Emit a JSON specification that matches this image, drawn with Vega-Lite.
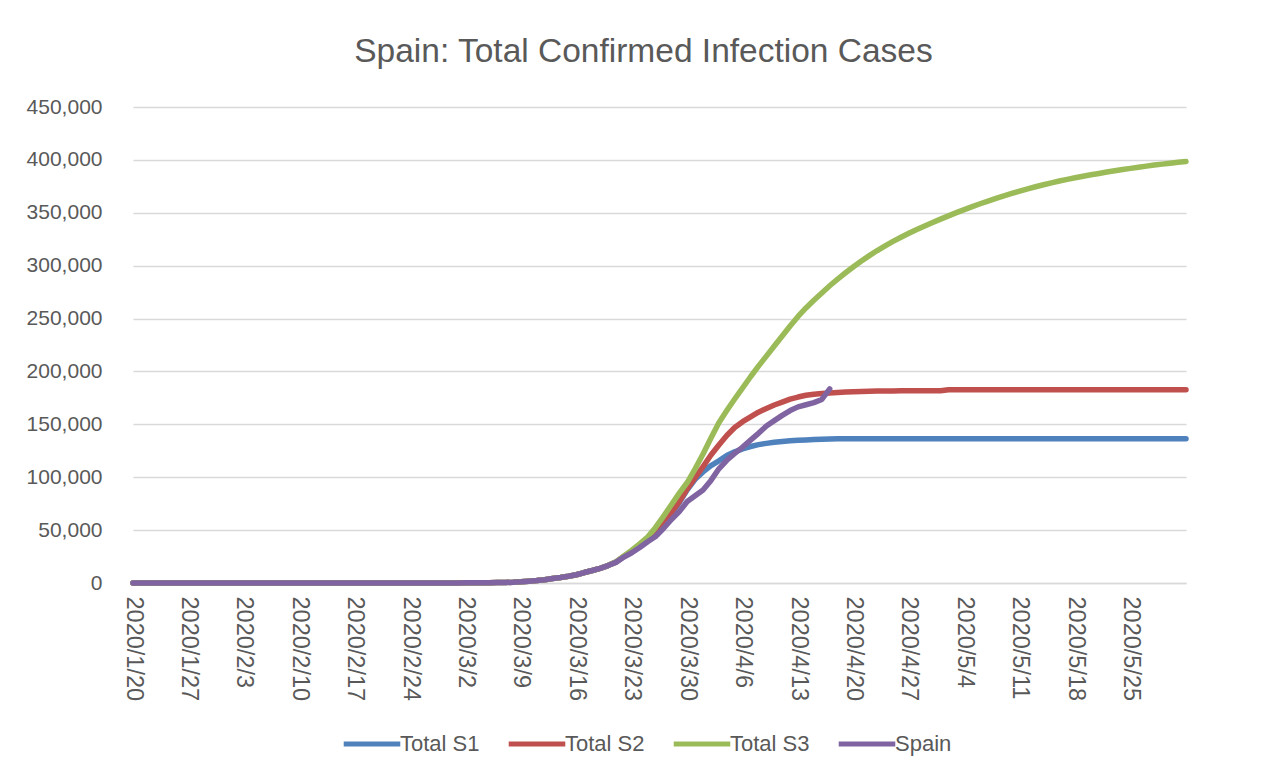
{
  "$schema": "https://vega.github.io/schema/vega-lite/v6.json",
  "autosize": {"type": "none"},
  "width": 1053,
  "height": 476,
  "padding": {"left": 133, "top": 107, "right": 102, "bottom": 195},
  "background": "white",
  "title": {
    "text": "Spain: Total Confirmed Infection Cases",
    "font": "Liberation Sans",
    "fontSize": 33.5,
    "fontWeight": "normal",
    "color": "#595959",
    "anchor": "middle",
    "dx": -16,
    "offset": 27
  },
  "config": {
    "view": {"stroke": null},
    "font": "Liberation Sans"
  },
  "data": {
    "values": [
      {"date":"2020-01-20","Total S1":0,"Total S2":0,"Total S3":0,"Spain":0},
      {"date":"2020-01-27","Total S1":0,"Total S2":0,"Total S3":0,"Spain":0},
      {"date":"2020-02-03","Total S1":0,"Total S2":0,"Total S3":0,"Spain":0},
      {"date":"2020-02-10","Total S1":0,"Total S2":0,"Total S3":0,"Spain":0},
      {"date":"2020-02-17","Total S1":0,"Total S2":0,"Total S3":0,"Spain":0},
      {"date":"2020-02-24","Total S1":0,"Total S2":0,"Total S3":0,"Spain":0},
      {"date":"2020-02-29","Total S1":0,"Total S2":0,"Total S3":0,"Spain":0},
      {"date":"2020-03-01","Total S1":84,"Total S2":84,"Total S3":84,"Spain":84},
      {"date":"2020-03-02","Total S1":120,"Total S2":120,"Total S3":120,"Spain":120},
      {"date":"2020-03-03","Total S1":165,"Total S2":165,"Total S3":165,"Spain":165},
      {"date":"2020-03-04","Total S1":222,"Total S2":222,"Total S3":222,"Spain":222},
      {"date":"2020-03-05","Total S1":259,"Total S2":259,"Total S3":259,"Spain":259},
      {"date":"2020-03-06","Total S1":400,"Total S2":400,"Total S3":400,"Spain":400},
      {"date":"2020-03-07","Total S1":500,"Total S2":500,"Total S3":500,"Spain":500},
      {"date":"2020-03-08","Total S1":673,"Total S2":673,"Total S3":673,"Spain":673},
      {"date":"2020-03-09","Total S1":1073,"Total S2":1073,"Total S3":1073,"Spain":1073},
      {"date":"2020-03-10","Total S1":1700,"Total S2":1700,"Total S3":1700,"Spain":1700},
      {"date":"2020-03-11","Total S1":2280,"Total S2":2280,"Total S3":2280,"Spain":2280},
      {"date":"2020-03-12","Total S1":3150,"Total S2":3150,"Total S3":3150,"Spain":3150},
      {"date":"2020-03-13","Total S1":4200,"Total S2":4200,"Total S3":4200,"Spain":4200},
      {"date":"2020-03-14","Total S1":5200,"Total S2":5200,"Total S3":5200,"Spain":5200},
      {"date":"2020-03-15","Total S1":6400,"Total S2":6400,"Total S3":6400,"Spain":6400},
      {"date":"2020-03-16","Total S1":7800,"Total S2":7800,"Total S3":7800,"Spain":7800},
      {"date":"2020-03-17","Total S1":9900,"Total S2":9900,"Total S3":9900,"Spain":9900},
      {"date":"2020-03-18","Total S1":11800,"Total S2":11800,"Total S3":11800,"Spain":11800},
      {"date":"2020-03-19","Total S1":13900,"Total S2":13900,"Total S3":13900,"Spain":13900},
      {"date":"2020-03-20","Total S1":16500,"Total S2":16500,"Total S3":16500,"Spain":16500},
      {"date":"2020-03-21","Total S1":19800,"Total S2":19800,"Total S3":20000,"Spain":19500},
      {"date":"2020-03-22","Total S1":25000,"Total S2":25000,"Total S3":25500,"Spain":24500},
      {"date":"2020-03-23","Total S1":30000,"Total S2":30000,"Total S3":31000,"Spain":28600},
      {"date":"2020-03-24","Total S1":35500,"Total S2":35800,"Total S3":37000,"Spain":33500},
      {"date":"2020-03-25","Total S1":41500,"Total S2":42000,"Total S3":43500,"Spain":39000},
      {"date":"2020-03-26","Total S1":48500,"Total S2":49000,"Total S3":52500,"Spain":44000},
      {"date":"2020-03-27","Total S1":56500,"Total S2":57000,"Total S3":63000,"Spain":51500},
      {"date":"2020-03-28","Total S1":65500,"Total S2":66500,"Total S3":74000,"Spain":60000},
      {"date":"2020-03-29","Total S1":76000,"Total S2":77000,"Total S3":85000,"Spain":67500},
      {"date":"2020-03-30","Total S1":88000,"Total S2":89000,"Total S3":95000,"Spain":77000},
      {"date":"2020-03-31","Total S1":98000,"Total S2":99500,"Total S3":108000,"Spain":82500},
      {"date":"2020-04-01","Total S1":105000,"Total S2":110000,"Total S3":122000,"Spain":88000},
      {"date":"2020-04-02","Total S1":111000,"Total S2":121000,"Total S3":137000,"Spain":97000},
      {"date":"2020-04-03","Total S1":115500,"Total S2":130500,"Total S3":151500,"Spain":108000},
      {"date":"2020-04-04","Total S1":120500,"Total S2":139500,"Total S3":163000,"Spain":116000},
      {"date":"2020-04-05","Total S1":124000,"Total S2":147000,"Total S3":174000,"Spain":122500},
      {"date":"2020-04-06","Total S1":126800,"Total S2":152500,"Total S3":184500,"Spain":128500},
      {"date":"2020-04-07","Total S1":129000,"Total S2":157000,"Total S3":195000,"Spain":135000},
      {"date":"2020-04-08","Total S1":130800,"Total S2":161500,"Total S3":205000,"Spain":141500},
      {"date":"2020-04-09","Total S1":132000,"Total S2":165000,"Total S3":214500,"Spain":148500},
      {"date":"2020-04-10","Total S1":133000,"Total S2":168300,"Total S3":224000,"Spain":153500},
      {"date":"2020-04-11","Total S1":133800,"Total S2":171000,"Total S3":233500,"Spain":158500},
      {"date":"2020-04-12","Total S1":134400,"Total S2":173800,"Total S3":243000,"Spain":163000},
      {"date":"2020-04-13","Total S1":134900,"Total S2":175800,"Total S3":252000,"Spain":166500},
      {"date":"2020-04-14","Total S1":135300,"Total S2":177500,"Total S3":260000,"Spain":168500},
      {"date":"2020-04-15","Total S1":135600,"Total S2":178500,"Total S3":267300,"Spain":170500},
      {"date":"2020-04-16","Total S1":135900,"Total S2":179200,"Total S3":274200,"Spain":173500},
      {"date":"2020-04-17","Total S1":136100,"Total S2":179700,"Total S3":281000,"Spain":183500},
      {"date":"2020-04-18","Total S1":136300,"Total S2":180100,"Total S3":287300},
      {"date":"2020-04-19","Total S1":136300,"Total S2":180500,"Total S3":293300},
      {"date":"2020-04-20","Total S1":136300,"Total S2":180800,"Total S3":299000},
      {"date":"2020-04-21","Total S1":136300,"Total S2":181100,"Total S3":304400},
      {"date":"2020-04-22","Total S1":136300,"Total S2":181300,"Total S3":309500},
      {"date":"2020-04-23","Total S1":136300,"Total S2":181500,"Total S3":314300},
      {"date":"2020-04-24","Total S1":136300,"Total S2":181600,"Total S3":318800},
      {"date":"2020-04-25","Total S1":136300,"Total S2":181600,"Total S3":323000},
      {"date":"2020-04-26","Total S1":136300,"Total S2":181700,"Total S3":326900},
      {"date":"2020-04-27","Total S1":136300,"Total S2":181700,"Total S3":330600},
      {"date":"2020-04-28","Total S1":136300,"Total S2":181700,"Total S3":334100},
      {"date":"2020-04-29","Total S1":136300,"Total S2":181800,"Total S3":337500},
      {"date":"2020-04-30","Total S1":136300,"Total S2":181800,"Total S3":340800},
      {"date":"2020-05-01","Total S1":136300,"Total S2":181800,"Total S3":344000},
      {"date":"2020-05-02","Total S1":136300,"Total S2":182700,"Total S3":347100},
      {"date":"2020-05-03","Total S1":136300,"Total S2":182700,"Total S3":350100},
      {"date":"2020-05-04","Total S1":136300,"Total S2":182700,"Total S3":353000},
      {"date":"2020-05-05","Total S1":136300,"Total S2":182700,"Total S3":355800},
      {"date":"2020-05-06","Total S1":136300,"Total S2":182700,"Total S3":358500},
      {"date":"2020-05-07","Total S1":136300,"Total S2":182700,"Total S3":361100},
      {"date":"2020-05-08","Total S1":136300,"Total S2":182700,"Total S3":363600},
      {"date":"2020-05-09","Total S1":136300,"Total S2":182700,"Total S3":366000},
      {"date":"2020-05-10","Total S1":136300,"Total S2":182700,"Total S3":368300},
      {"date":"2020-05-11","Total S1":136300,"Total S2":182700,"Total S3":370500},
      {"date":"2020-05-12","Total S1":136300,"Total S2":182700,"Total S3":372600},
      {"date":"2020-05-13","Total S1":136300,"Total S2":182700,"Total S3":374600},
      {"date":"2020-05-14","Total S1":136300,"Total S2":182700,"Total S3":376500},
      {"date":"2020-05-15","Total S1":136300,"Total S2":182700,"Total S3":378300},
      {"date":"2020-05-16","Total S1":136300,"Total S2":182700,"Total S3":380000},
      {"date":"2020-05-17","Total S1":136300,"Total S2":182700,"Total S3":381600},
      {"date":"2020-05-18","Total S1":136300,"Total S2":182700,"Total S3":383100},
      {"date":"2020-05-19","Total S1":136300,"Total S2":182700,"Total S3":384500},
      {"date":"2020-05-20","Total S1":136300,"Total S2":182700,"Total S3":385900},
      {"date":"2020-05-21","Total S1":136300,"Total S2":182700,"Total S3":387200},
      {"date":"2020-05-22","Total S1":136300,"Total S2":182700,"Total S3":388500},
      {"date":"2020-05-23","Total S1":136300,"Total S2":182700,"Total S3":389700},
      {"date":"2020-05-24","Total S1":136300,"Total S2":182700,"Total S3":390900},
      {"date":"2020-05-25","Total S1":136300,"Total S2":182700,"Total S3":392000},
      {"date":"2020-05-26","Total S1":136300,"Total S2":182700,"Total S3":393100},
      {"date":"2020-05-27","Total S1":136300,"Total S2":182700,"Total S3":394100},
      {"date":"2020-05-28","Total S1":136300,"Total S2":182700,"Total S3":395100},
      {"date":"2020-05-29","Total S1":136300,"Total S2":182700,"Total S3":396000},
      {"date":"2020-05-30","Total S1":136300,"Total S2":182700,"Total S3":396900},
      {"date":"2020-05-31","Total S1":136300,"Total S2":182700,"Total S3":397700},
      {"date":"2020-06-01","Total S1":136300,"Total S2":182700,"Total S3":398500}
    ]
  },
  "transform": [
    {"fold": ["Total S1", "Total S2", "Total S3", "Spain"], "as": ["series", "value"]},
    {"filter": "isValid(datum.value)"}
  ],
  "mark": {"type": "line", "strokeWidth": 5.5, "strokeCap": "round", "strokeJoin": "round"},
  "encoding": {
    "x": {
      "field": "date",
      "type": "temporal",
      "scale": {
        "type": "utc",
        "domain": [{"year": 2020, "month": 1, "date": 20, "utc": true}, {"year": 2020, "month": 6, "date": 1, "utc": true}],
        "nice": false
      },
      "axis": {
        "title": null,
        "values": [1579478400000,1580083200000,1580688000000,1581292800000,1581897600000,1582502400000,1583107200000,1583712000000,1584316800000,1584921600000,1585526400000,1586131200000,1586736000000,1587340800000,1587945600000,1588550400000,1589155200000,1589760000000,1590364800000],
        "labelExpr": "utcFormat(datum.value, '%Y/%-m/%-d')",
        "labelAngle": 90,
        "labelAlign": "left",
        "labelBaseline": "middle",
        "labelFontSize": 23.5,
        "labelColor": "#595959",
        "labelPadding": 13,
        "labelOverlap": false,
        "labelFlush": false,
        "ticks": false,
        "grid": false,
        "domain": true,
        "domainColor": "#D9D9D9",
        "domainWidth": 1.5
      }
    },
    "y": {
      "field": "value",
      "type": "quantitative",
      "scale": {"domain": [0, 450000], "nice": false},
      "axis": {
        "title": null,
        "values": [0,50000,100000,150000,200000,250000,300000,350000,400000,450000],
        "format": ",d",
        "labelFontSize": 21,
        "labelColor": "#595959",
        "labelPadding": 31,
        "ticks": false,
        "domain": false,
        "grid": true,
        "gridColor": "#D9D9D9",
        "gridWidth": 1.5
      }
    },
    "color": {
      "field": "series",
      "type": "nominal",
      "sort": ["Total S1", "Total S2", "Total S3", "Spain"],
      "scale": {
        "domain": ["Total S1", "Total S2", "Total S3", "Spain"],
        "range": ["#4F81BD", "#C0504D", "#9BBB59", "#8064A2"]
      },
      "legend": {
        "title": null,
        "orient": "none",
        "direction": "horizontal",
        "legendX": 208,
        "legendY": 606,
        "symbolType": "stroke",
        "symbolSize": 3200,
        "symbolStrokeWidth": 5,
        "labelFontSize": 22,
        "labelColor": "#595959",
        "labelOffset": -3,
        "columnPadding": 18,
        "padding": 0
      }
    }
  }
}
